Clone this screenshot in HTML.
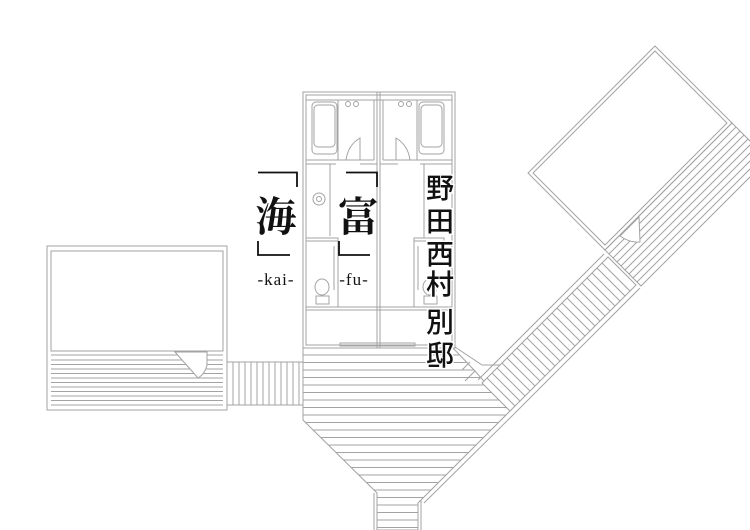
<!DOCTYPE html>
<html><head><meta charset="utf-8"><style>
html,body{margin:0;padding:0;background:#fff;}
svg{display:block}
.cj{font-family:"Liberation Serif","Noto Serif CJK JP",serif;fill:#111;font-weight:bold}
.gs{font-family:"Liberation Sans","Noto Sans CJK JP",sans-serif;fill:#111;font-weight:500}
.lt{font-family:"Liberation Serif",serif;fill:#111}
</style></head><body>
<svg width="750" height="530" viewBox="0 0 750 530" xmlns="http://www.w3.org/2000/svg">
<defs>
<clipPath id="deck"><polygon points="303,349 453,349 475,371 510,411 418,503 418,530 377,530 377,493 303,420"/></clipPath>
<clipPath id="walk"><polygon points="482,383 608,257 636,285 510,411"/></clipPath>
<clipPath id="rdeck"><polygon points="605,250 732,123 768,159 641,286"/></clipPath>
</defs>
<g fill="none" stroke="#a3a3a3" stroke-width="1">
<rect x="47" y="246" width="180" height="164"/>
<rect x="51" y="251" width="172" height="100"/>
<line x1="51" y1="355" x2="223" y2="355"/>
<g>
<line x1="51" y1="360" x2="223" y2="360"/><line x1="51" y1="364.5" x2="223" y2="364.5"/>
<line x1="51" y1="369" x2="223" y2="369"/><line x1="51" y1="373.5" x2="223" y2="373.5"/>
<line x1="51" y1="378" x2="223" y2="378"/><line x1="51" y1="382.5" x2="223" y2="382.5"/>
<line x1="51" y1="387" x2="223" y2="387"/><line x1="51" y1="391.5" x2="223" y2="391.5"/>
<line x1="51" y1="396" x2="223" y2="396"/><line x1="51" y1="400.5" x2="223" y2="400.5"/>
<line x1="51" y1="405" x2="223" y2="405"/>
</g>
<path d="M175,352 L207,352 L207,365 Q205,374 198,378 Z" fill="#fff"/>
<rect x="227" y="362" width="76" height="43"/>
<g>
<line x1="233" y1="362" x2="233" y2="405"/><line x1="239" y1="362" x2="239" y2="405"/><line x1="245" y1="362" x2="245" y2="405"/><line x1="251" y1="362" x2="251" y2="405"/><line x1="257" y1="362" x2="257" y2="405"/><line x1="263" y1="362" x2="263" y2="405"/><line x1="269" y1="362" x2="269" y2="405"/><line x1="275" y1="362" x2="275" y2="405"/><line x1="281" y1="362" x2="281" y2="405"/><line x1="287" y1="362" x2="287" y2="405"/><line x1="293" y1="362" x2="293" y2="405"/><line x1="299" y1="362" x2="299" y2="405"/>
</g>
<rect x="303" y="92" width="152" height="256"/>
<rect x="306" y="95" width="146" height="250"/>
<rect x="377" y="92" width="3" height="256"/>
<line x1="306" y1="100" x2="452" y2="100"/>
<line x1="306" y1="160" x2="374" y2="160"/><line x1="306" y1="164" x2="336" y2="164"/>
<line x1="383" y1="160" x2="452" y2="160"/><line x1="420" y1="164" x2="452" y2="164"/>
<line x1="360" y1="164" x2="377" y2="164"/><line x1="380" y1="164" x2="398" y2="164"/>
<rect x="312" y="102" width="25" height="52" rx="4"/>
<rect x="314" y="105" width="21" height="42" rx="4"/>
<rect x="419" y="102" width="25" height="52" rx="4"/>
<rect x="421" y="105" width="21" height="42" rx="4"/>
<line x1="338" y1="100" x2="338" y2="160"/><line x1="374" y1="100" x2="374" y2="160"/>
<line x1="383" y1="100" x2="383" y2="160"/><line x1="417" y1="100" x2="417" y2="160"/>
<circle cx="348" cy="104" r="2.5"/><circle cx="356" cy="104" r="2.5"/>
<circle cx="401" cy="104" r="2.5"/><circle cx="409" cy="104" r="2.5"/>
<path d="M346,160 Q348,145 360,138 L360,160"/>
<path d="M410,160 Q408,145 396,138 L396,160"/>
<line x1="330" y1="164" x2="330" y2="236"/>
<circle cx="319" cy="199" r="6"/><circle cx="319" cy="199" r="2.5"/>
<rect x="306" y="238" width="32" height="3"/>
<line x1="338" y1="241" x2="338" y2="307"/><line x1="334" y1="246" x2="334" y2="290"/>
<ellipse cx="322" cy="287" rx="7" ry="8"/><rect x="316" y="296" width="13" height="8"/>
<rect x="414" y="238" width="30" height="3"/>
<line x1="414" y1="241" x2="414" y2="307"/><line x1="418" y1="246" x2="418" y2="290"/>
<ellipse cx="430" cy="287" rx="7" ry="8"/><rect x="424" y="296" width="13" height="8"/>
<line x1="424" y1="164" x2="424" y2="238"/>
<rect x="306" y="307" width="146" height="3"/>
<rect x="340" y="343" width="75" height="3"/>
<polygon points="303,348 453,348 475,371 510,411 418,503 418,530 377,530 377,493 303,420"/>
<g clip-path="url(#deck)">
<line x1="300" y1="355" x2="520" y2="355"/><line x1="300" y1="362.5" x2="520" y2="362.5"/><line x1="300" y1="370" x2="520" y2="370"/><line x1="300" y1="377.5" x2="520" y2="377.5"/><line x1="300" y1="385" x2="520" y2="385"/><line x1="300" y1="392.5" x2="520" y2="392.5"/><line x1="300" y1="400" x2="520" y2="400"/><line x1="300" y1="407.5" x2="520" y2="407.5"/><line x1="300" y1="415" x2="520" y2="415"/><line x1="300" y1="422.5" x2="520" y2="422.5"/><line x1="300" y1="430" x2="520" y2="430"/><line x1="300" y1="437.5" x2="520" y2="437.5"/><line x1="300" y1="445" x2="520" y2="445"/><line x1="300" y1="452.5" x2="520" y2="452.5"/><line x1="300" y1="460" x2="520" y2="460"/><line x1="300" y1="467.5" x2="520" y2="467.5"/><line x1="300" y1="475" x2="520" y2="475"/><line x1="300" y1="482.5" x2="520" y2="482.5"/><line x1="300" y1="490" x2="520" y2="490"/><line x1="300" y1="497.5" x2="520" y2="497.5"/><line x1="300" y1="505" x2="520" y2="505"/><line x1="300" y1="512.5" x2="520" y2="512.5"/><line x1="300" y1="520" x2="520" y2="520"/><line x1="300" y1="527.5" x2="520" y2="527.5"/>
</g>
<line x1="374" y1="493" x2="374" y2="530"/><line x1="421" y1="500" x2="421" y2="530"/>
<polygon points="482,383 608,257 636,285 510,411" fill="#fff"/>
<line x1="478" y1="380" x2="604" y2="254"/><line x1="514" y1="414" x2="640" y2="288"/>
<line x1="424" y1="503" x2="514" y2="414"/>
<line x1="455" y1="347" x2="482" y2="365"/><line x1="482" y1="365" x2="500" y2="365"/>
<g clip-path="url(#walk)">
<path d="M487,378 l40,40 M492,373 l40,40 M497,368 l40,40 M502,363 l40,40 M507,358 l40,40 M512,353 l40,40 M517,348 l40,40 M522,343 l40,40 M527,338 l40,40 M532,333 l40,40 M537,328 l40,40 M542,323 l40,40 M547,318 l40,40 M552,313 l40,40 M557,308 l40,40 M562,303 l40,40 M567,298 l40,40 M572,293 l40,40 M577,288 l40,40 M582,283 l40,40 M587,278 l40,40 M592,273 l40,40 M597,268 l40,40 M602,263 l40,40"/>
</g>
<path d="M475,371 l-10,10 M470,362 l-8,8"/>
<polygon points="655,46 528,173 605,250 732,123"/>
<polygon points="655,51 533,173 605,245 727,123"/>
<polygon points="605,250 732,123 768,159 641,286"/>
<g clip-path="url(#rdeck)">
<path d="M609,254 l130,-130 M613,258 l130,-130 M617,262 l130,-130 M621,266 l130,-130 M625,270 l130,-130 M629,274 l130,-130 M633,278 l130,-130 M637,282 l130,-130"/>
</g>
<path d="M620,236 L639,217 L640,242 Q630,243 620,236 Z" fill="#fff"/>
</g>
<g stroke="#111" stroke-width="1.8" fill="none">
<path d="M258,172.5 H297 V187"/><path d="M258,241 V255 H290"/>
<path d="M346,172.5 H377 V187"/><path d="M339,241 V255 H370"/>
</g>
<text x="276" y="231" class="cj" font-size="41" text-anchor="middle">海</text>
<text x="358" y="231" class="cj" font-size="41" text-anchor="middle">富</text>
<text x="276" y="285" class="lt" font-size="17" text-anchor="middle" letter-spacing="1">-kai-</text>
<text x="354" y="285" class="lt" font-size="17" text-anchor="middle" letter-spacing="1">-fu-</text>
<g class="gs" font-size="28" text-anchor="middle" stroke="#fff" stroke-width="3" paint-order="stroke">
<text x="440" y="198">野</text>
<text x="440" y="231">田</text>
<text x="440" y="264">西</text>
<text x="440" y="294">村</text>
<text x="440" y="332">別</text>
<text x="440" y="365">邸</text>
</g>
</svg>
</body></html>
